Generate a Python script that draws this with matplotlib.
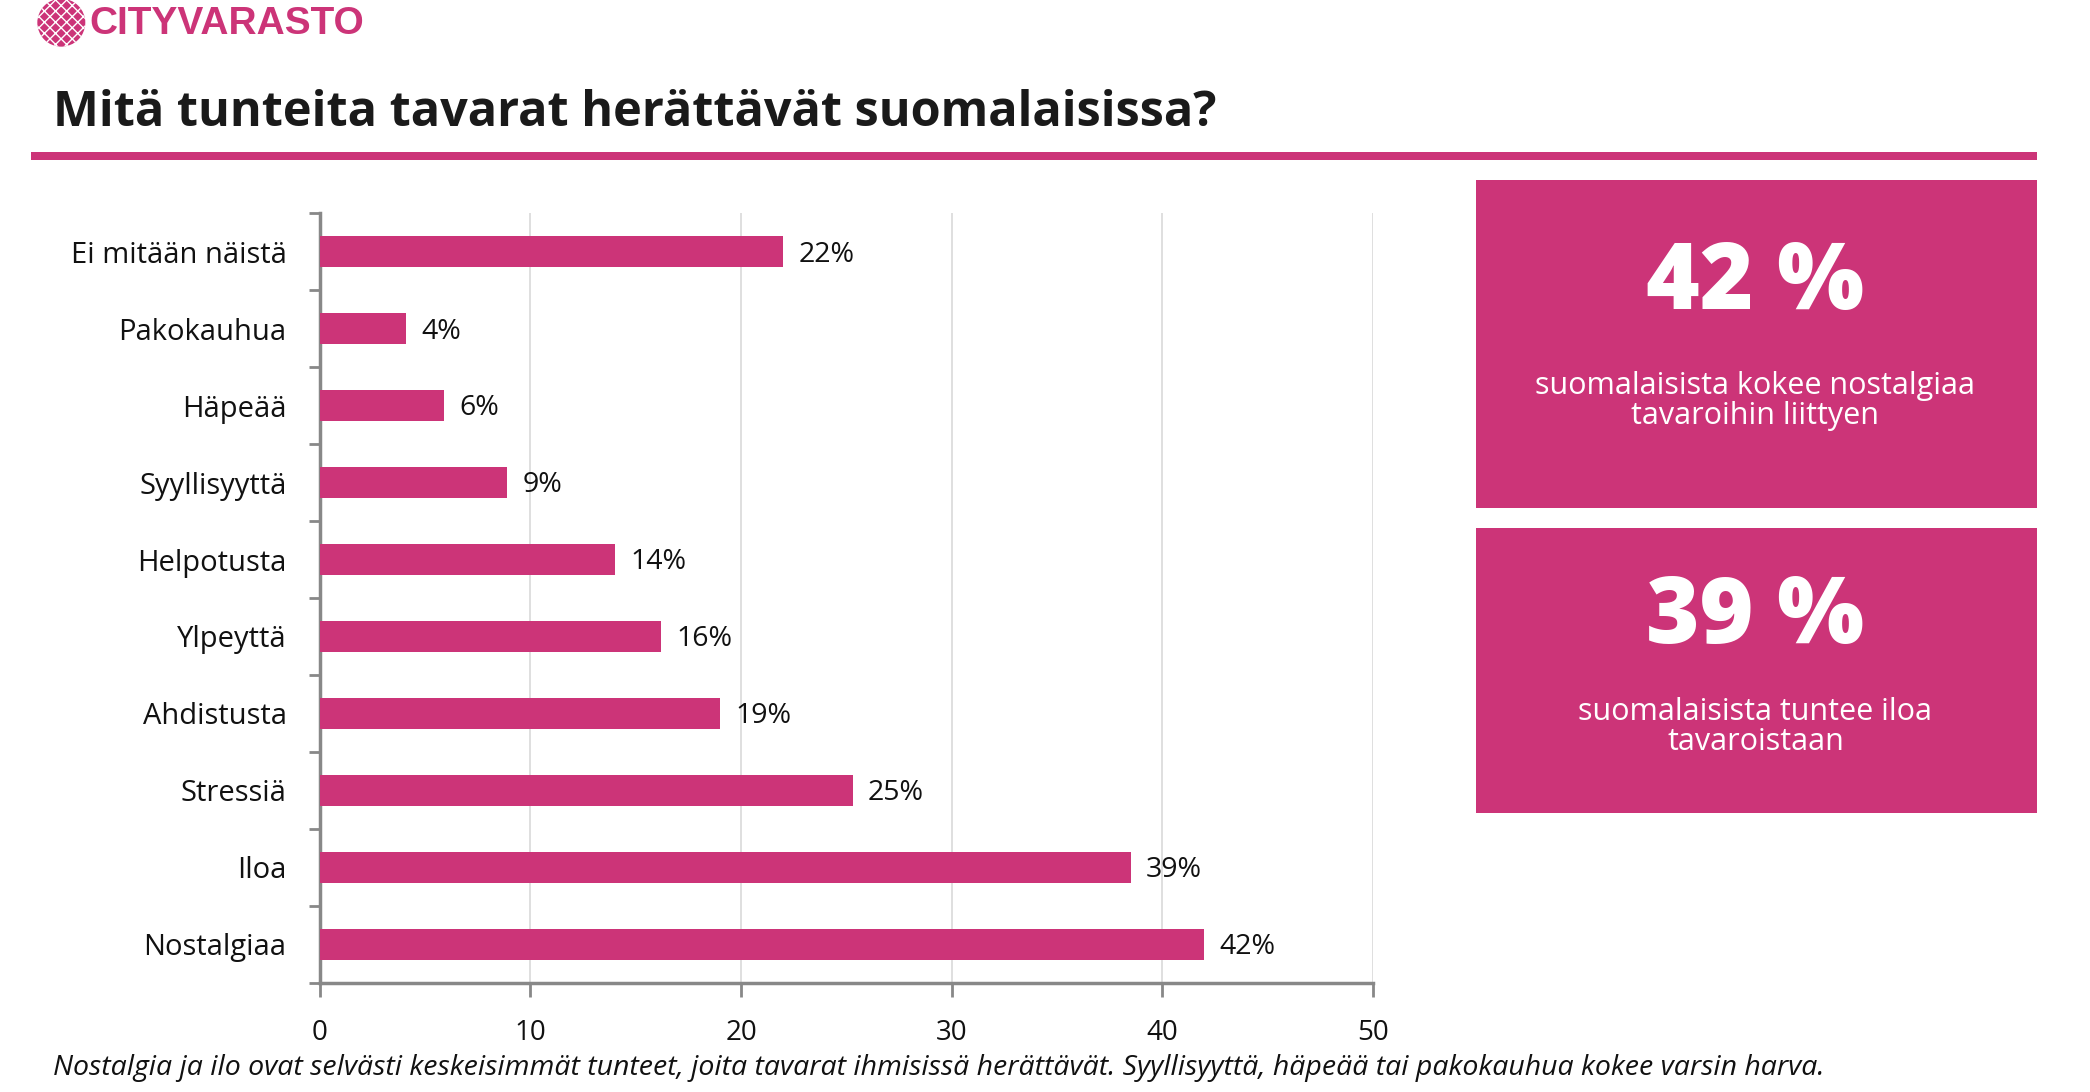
import numpy as np
import matplotlib
matplotlib.use('Agg')
import matplotlib.pyplot as plt
from matplotlib.patches import Rectangle, Circle

# data
categories = ['Ei mitään näistä', 'Pakokauhua', 'Häpeää', 'Syyllisyyttä', 'Helpotusta',
              'Ylpeyttä', 'Ahdistusta', 'Stressiä', 'Iloa', 'Nostalgiaa']
values = [22, 4.1, 5.9, 8.9, 14, 16.2, 19, 25.3, 38.5, 42]
value_labels = ['22%', '4%', '6%', '9%', '14%', '16%', '19%', '25%', '39%', '42%']
x_ticks = [0, 10, 20, 30, 40, 50]

title = 'Mitä tunteita tavarat herättävät suomalaisissa?'
caption = ('Nostalgia ja ilo ovat selvästi keskeisimmät tunteet, joita tavarat ihmisissä herättävät. '
           'Syyllisyyttä, häpeää tai pakokauhua kokee varsin harva.')
box_numbers = ['42 %', '39 %']
box_texts = ['suomalaisista kokee nostalgiaa\ntavaroihin liittyen',
             'suomalaisista tuntee iloa\ntavaroistaan']

PINK = '#CC3478'
FONT = 'Open Sans'
plt.rcParams['font.family'] = [FONT, 'DejaVu Sans']

W, H = 1568, 819  # layout measured on the scaled screenshot


def fx(x):
    return x / W


def fy(y):
    return 1 - y / H


fig = plt.figure(figsize=(20.9, 10.92), dpi=100)

# logo
ax_logo = fig.add_axes([fx(22), fy(40), fx(50), 40 / H])
ax_logo.set_xlim(0, 50)
ax_logo.set_ylim(40, 0)
ax_logo.set_aspect('equal')
ax_logo.axis('off')
ax_logo.add_patch(Circle((24, 17), 18, facecolor=PINK, edgecolor='white', hatch='xxx', linewidth=0))
fig.text(fx(67), fy(18), 'CITYVARASTO', color=PINK, fontsize=28, fontweight='bold',
         family='Liberation Sans', va='center', ha='left')

# title and rule
fig.text(fx(40), fy(85), title, fontsize=35, fontweight='bold', color='#1a1a1a', va='center', ha='left')
fig.add_artist(Rectangle((fx(23), fy(120)), fx(1528) - fx(23), 6 / H, transform=fig.transFigure,
                         facecolor=PINK, edgecolor='none'))

# bar chart
ax = fig.add_axes([fx(240), fy(737), fx(1030) - fx(240), (737 - 160) / H])
pos = np.arange(len(categories))
ax.barh(pos, values, height=0.4, color=PINK, zorder=3)
for p, v, lab in zip(pos, values, value_labels):
    ax.annotate(lab, (v, p), xytext=(11, -2), textcoords='offset points', va='center', ha='left',
                fontsize=20.5, color='#111111')

ax.set_xlim(0, 50)
ax.set_ylim(len(categories) - 0.5, -0.5)
ax.set_xticks(x_ticks)
ax.set_xticklabels([str(t) for t in x_ticks])
ax.set_yticks(pos)
ax.set_yticklabels(categories)
ax.set_yticks(np.arange(len(categories) + 1) - 0.5, minor=True)
ax.tick_params(axis='y', which='major', length=0, pad=24, labelsize=21, labelcolor='#111111')
ax.tick_params(axis='y', which='minor', length=8, width=2, color='#888888')
ax.tick_params(axis='x', length=10, width=2, color='#888888', pad=16, labelsize=20, labelcolor='#111111')
ax.grid(axis='x', color='#D9D9D9', linewidth=1.2, zorder=0)
for s in ['top', 'right']:
    ax.spines[s].set_visible(False)
for s in ['left', 'bottom']:
    ax.spines[s].set_color('#888888')
    ax.spines[s].set_linewidth(2.5)

# highlight boxes
boxes = [(135, 381, 214, 288), (396, 610, 464, 532)]
for (top, bottom, ny, ty), num, txt in zip(boxes, box_numbers, box_texts):
    fig.add_artist(Rectangle((fx(1107), fy(bottom)), fx(1528) - fx(1107), (bottom - top) / H,
                             transform=fig.transFigure, facecolor=PINK, edgecolor='none'))
    fig.text(fx(1317), fy(ny), num, color='white', fontsize=66, fontweight='heavy',
             ha='center', va='center')
    fig.text(fx(1317), fy(ty + 13), txt, color='white', fontsize=22, ha='center', va='center',
             linespacing=1.0)

fig.text(fx(40), fy(801), caption, fontsize=20.5, style='italic', color='#111111', va='center', ha='left')

fig.savefig('out.png', dpi=100, facecolor='white')
